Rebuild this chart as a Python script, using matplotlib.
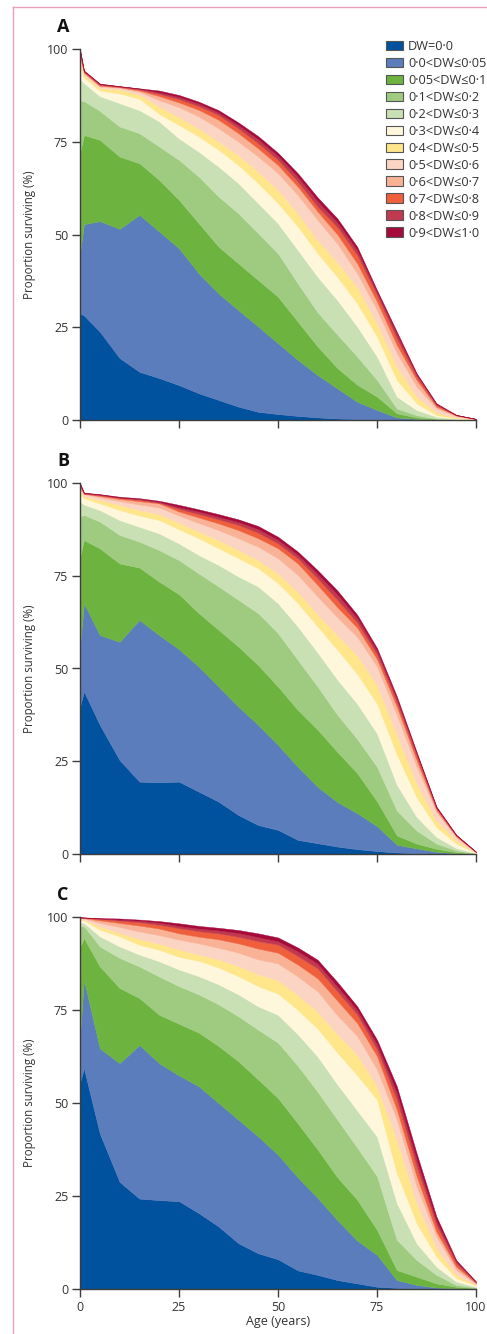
import numpy as np
import matplotlib
matplotlib.use("Agg")
import matplotlib.pyplot as plt
from matplotlib.patches import Patch
from matplotlib.lines import Line2D

plt.rcParams['font.family'] = ['Open Sans', 'DejaVu Sans']

ages = [0, 1, 5, 10, 15, 20, 25, 30, 35, 40, 45, 50, 55, 60, 65, 70, 75, 80, 85, 90, 95, 100]

labels = ["DW=0·0", "0·0<DW≤0·05", "0·05<DW≤0·1", "0·1<DW≤0·2", "0·2<DW≤0·3",
          "0·3<DW≤0·4", "0·4<DW≤0·5", "0·5<DW≤0·6", "0·6<DW≤0·7", "0·7<DW≤0·8",
          "0·8<DW≤0·9", "0·9<DW≤1·0"]
colors = ["#00519e", "#5b7dbc", "#6db33f", "#9ecb7f", "#c8e0b4", "#fff7dc",
          "#ffe68a", "#fcd4c3", "#f9b296", "#ef5f3c", "#c0394f", "#a50a3a"]

# Cumulative % surviving with DW up to each band's upper bound (one row per age,
# columns follow the legend order, last column = total surviving)
panel_A = [
    [28.7, 44.9, 72.0, 86.0, 92.0, 95.0, 96.5, 97.5, 98.3, 99.0, 99.5, 100.0],
    [28.2, 52.8, 76.8, 86.0, 90.8, 92.3, 92.9, 93.3, 93.6, 93.9, 94.1, 94.2],
    [23.8, 53.6, 75.5, 83.3, 87.3, 88.8, 89.5, 89.9, 90.1, 90.35, 90.55, 90.7],
    [16.7, 51.5, 71.0, 79.1, 85.4, 88.0, 89.1, 89.5, 89.7, 89.85, 89.95, 90.0],
    [13.0, 55.3, 69.2, 77.3, 83.5, 86.6, 87.7, 88.4, 88.8, 89.1, 89.3, 89.4],
    [11.3, 50.8, 64.7, 73.7, 80.5, 82.5, 84.5, 86.2, 87.3, 87.9, 88.3, 88.8],
    [9.4, 46.3, 59.3, 70.1, 75.9, 79.5, 81.6, 84.3, 85.6, 86.5, 87.1, 87.6],
    [7.2, 39.5, 53.0, 65.6, 72.3, 76.4, 78.6, 81.8, 83.6, 84.6, 85.3, 85.8],
    [5.4, 34.1, 46.7, 60.2, 68.3, 72.8, 75.0, 78.6, 80.9, 82.2, 82.9, 83.5],
    [3.6, 29.6, 42.2, 55.7, 63.8, 68.7, 71.4, 75.0, 77.3, 78.6, 79.5, 80.2],
    [2.2, 25.2, 37.7, 50.3, 58.4, 63.8, 66.9, 71.0, 73.2, 74.6, 75.7, 76.5],
    [1.6, 20.7, 33.2, 44.9, 53.0, 58.4, 62.0, 66.5, 68.7, 70.1, 71.2, 72.0],
    [1.1, 16.2, 26.5, 36.8, 45.8, 52.1, 55.7, 60.6, 62.9, 64.3, 65.6, 66.5],
    [0.7, 12.1, 19.8, 29.0, 38.6, 44.9, 48.5, 53.9, 56.2, 57.5, 59.0, 60.0],
    [0.4, 8.5, 14.0, 23.0, 32.3, 38.5, 42.5, 47.5, 50.0, 52.0, 53.3, 54.3],
    [0.25, 4.9, 9.5, 17.1, 25.2, 31.4, 35.9, 39.5, 42.2, 44.5, 45.8, 46.7],
    [0.15, 2.7, 6.3, 10.8, 17.1, 22.5, 26.0, 29.6, 31.9, 33.7, 34.5, 35.0],
    [0.1, 0.7, 1.8, 3.1, 6.3, 10.8, 14.4, 18.0, 20.2, 22.0, 23.2, 23.8],
    [0.05, 0.3, 0.7, 1.3, 2.7, 4.5, 6.3, 9.0, 10.8, 11.7, 12.3, 12.6],
    [0.0, 0.1, 0.3, 0.4, 0.9, 1.3, 2.0, 3.1, 3.6, 4.0, 4.3, 4.5],
    [0.0, 0.0, 0.1, 0.1, 0.3, 0.4, 0.7, 1.1, 1.2, 1.3, 1.35, 1.4],
    [0.0, 0.0, 0.0, 0.0, 0.05, 0.1, 0.15, 0.2, 0.25, 0.28, 0.3, 0.3],
]

panel_B = [
    [39.7, 56.0, 80.0, 91.0, 95.0, 97.0, 98.0, 98.5, 99.0, 99.4, 99.7, 100.0],
    [43.8, 67.6, 84.6, 91.4, 94.2, 95.9, 96.5, 97.0, 97.1, 97.2, 97.3, 97.4],
    [34.8, 59.0, 82.4, 89.6, 92.7, 94.5, 95.4, 96.1, 96.5, 96.7, 96.9, 97.0],
    [25.3, 57.2, 78.3, 86.0, 90.0, 92.7, 94.1, 95.1, 95.7, 96.0, 96.1, 96.3],
    [19.5, 63.1, 77.2, 84.2, 88.2, 91.2, 92.7, 94.2, 95.1, 95.5, 95.7, 95.9],
    [19.3, 59.0, 73.4, 81.9, 86.4, 90.0, 91.6, 93.4, 94.5, 94.7, 94.9, 95.2],
    [19.5, 55.2, 70.0, 79.2, 83.7, 87.5, 89.3, 91.2, 92.3, 93.0, 93.5, 94.1],
    [16.8, 50.5, 64.9, 75.6, 80.6, 85.1, 86.9, 89.2, 90.7, 91.6, 92.3, 92.9],
    [14.1, 45.1, 60.4, 72.1, 77.9, 82.4, 84.6, 87.3, 89.1, 90.2, 90.9, 91.6],
    [10.5, 39.7, 55.9, 68.5, 74.8, 79.7, 81.9, 85.1, 87.3, 88.7, 89.5, 90.2],
    [7.8, 34.8, 50.9, 64.9, 72.1, 77.0, 79.2, 82.8, 85.1, 86.6, 87.6, 88.4],
    [6.5, 29.4, 45.1, 59.5, 67.6, 73.0, 75.6, 79.7, 82.4, 83.7, 84.7, 85.5],
    [3.8, 23.5, 38.8, 52.3, 61.3, 67.6, 70.7, 75.2, 78.3, 79.7, 80.7, 81.5],
    [2.9, 18.1, 33.5, 45.1, 54.3, 61.3, 64.6, 69.4, 72.5, 74.3, 75.5, 76.5],
    [2.0, 14.0, 27.5, 37.5, 47.0, 55.0, 59.0, 63.8, 66.5, 68.5, 70.0, 71.0],
    [1.3, 11.0, 21.8, 31.0, 40.5, 48.5, 53.5, 58.5, 61.0, 62.4, 63.6, 64.5],
    [0.8, 7.5, 14.2, 23.5, 32.5, 40.5, 45.5, 50.5, 52.5, 53.8, 54.8, 55.5],
    [0.4, 2.5, 5.0, 11.7, 18.7, 26.8, 32.2, 37.5, 39.7, 41.0, 41.8, 42.5],
    [0.2, 1.5, 2.8, 6.3, 10.0, 15.3, 19.0, 23.5, 25.3, 26.5, 27.1, 27.5],
    [0.1, 0.6, 1.4, 2.8, 4.6, 7.2, 9.0, 11.3, 11.9, 12.3, 12.6, 12.8],
    [0.0, 0.2, 0.5, 1.0, 1.6, 2.8, 3.7, 4.5, 4.8, 5.0, 5.1, 5.2],
    [0.0, 0.0, 0.1, 0.15, 0.2, 0.3, 0.4, 0.45, 0.5, 0.55, 0.6, 0.6],
]

panel_C = [
    [55.5, 68.0, 92.0, 97.5, 98.5, 99.0, 99.2, 99.5, 99.7, 99.8, 99.9, 100.0],
    [59.3, 83.1, 94.3, 97.5, 98.4, 99.1, 99.3, 99.6, 99.7, 99.8, 99.85, 99.9],
    [41.8, 64.7, 86.7, 92.1, 94.8, 96.6, 97.5, 98.4, 99.1, 99.5, 99.6, 99.7],
    [28.8, 60.7, 80.9, 89.0, 92.1, 94.8, 95.7, 97.3, 98.4, 99.0, 99.3, 99.6],
    [24.3, 65.6, 78.2, 86.7, 89.9, 92.5, 94.1, 96.1, 97.7, 98.6, 99.0, 99.3],
    [23.9, 60.7, 73.7, 84.0, 88.1, 91.2, 92.8, 95.1, 96.9, 97.9, 98.5, 98.9],
    [23.6, 57.4, 71.3, 81.4, 85.9, 89.3, 91.3, 93.9, 95.6, 97.0, 97.6, 98.3],
    [20.4, 54.5, 68.9, 79.2, 84.1, 88.2, 89.9, 92.9, 94.7, 96.2, 96.9, 97.6],
    [16.8, 50.0, 65.3, 76.5, 81.9, 86.4, 88.6, 91.7, 94.0, 95.6, 96.4, 97.1],
    [12.3, 45.5, 61.2, 73.3, 79.2, 84.1, 86.8, 90.4, 92.9, 94.7, 95.7, 96.5],
    [9.6, 41.0, 56.3, 69.7, 76.0, 81.4, 84.6, 88.6, 91.5, 93.5, 94.6, 95.6],
    [8.0, 36.1, 51.3, 66.2, 73.7, 79.4, 83.0, 87.5, 90.4, 92.6, 93.5, 94.5],
    [5.0, 30.0, 44.5, 60.0, 68.5, 75.0, 79.0, 84.0, 87.2, 89.5, 90.8, 91.8],
    [3.8, 24.5, 37.5, 53.0, 62.5, 70.0, 74.5, 80.0, 83.5, 86.2, 87.5, 88.5],
    [2.4, 18.5, 30.0, 45.5, 55.0, 63.5, 68.5, 73.5, 77.5, 80.0, 81.3, 82.5],
    [1.5, 13.0, 24.0, 38.0, 48.0, 57.5, 63.0, 68.0, 71.5, 73.8, 75.0, 76.0],
    [0.6, 9.2, 15.9, 30.3, 41.0, 50.9, 54.5, 59.0, 62.6, 64.4, 65.8, 67.0],
    [0.3, 2.4, 5.1, 13.2, 23.1, 31.1, 40.1, 45.5, 48.2, 50.9, 52.8, 54.5],
    [0.1, 1.1, 3.3, 7.8, 12.3, 17.7, 23.1, 27.6, 30.3, 32.9, 34.8, 36.5],
    [0.0, 0.4, 1.5, 3.8, 6.0, 8.7, 11.0, 14.1, 15.4, 17.2, 18.3, 19.5],
    [0.0, 0.2, 0.6, 1.1, 2.0, 2.9, 3.8, 5.1, 6.0, 6.9, 7.4, 7.8],
    [0.0, 0.1, 0.2, 0.4, 0.6, 0.9, 1.1, 1.4, 1.6, 1.8, 1.9, 2.0],
]

panel_letters = ["A", "B", "C"]
ticks = [0, 25, 50, 75, 100]

W, H = 487, 1334
fig = plt.figure(figsize=(W / 100, H / 100), dpi=100)

# axes pixel boxes: (top of 100, bottom of 0)
boxes = [(49, 420), (483, 854), (917, 1289)]
left_px, right_px = 80, 476
spine_col = "#3d3d3d"
text_col = "#333333"

axes = []
for k, (panel, (top, bot)) in enumerate(zip([panel_A, panel_B, panel_C], boxes)):
    ax = fig.add_axes([left_px / W, 1 - bot / H, (right_px - left_px) / W, (bot - top) / H])
    cum = np.array(panel).T
    lower = np.zeros(len(ages))
    for i in range(cum.shape[0]):
        ax.fill_between(ages, lower, cum[i], facecolor=colors[i], edgecolor=colors[i],
                        linewidth=0.3)
        lower = cum[i]
    ax.set_xlim(0, 100)
    ax.set_ylim(0, 100)
    ax.set_xticks(ticks)
    ax.set_yticks(ticks)
    for s in ["top", "right"]:
        ax.spines[s].set_visible(False)
    for s in ["left", "bottom"]:
        ax.spines[s].set_color(spine_col)
        ax.spines[s].set_linewidth(1.0)
    ax.tick_params(direction="out", length=6, width=1.0, color=spine_col,
                   labelsize=9, labelcolor=text_col, pad=2.5)
    if k < 2:
        ax.set_xticklabels([])
    else:
        ax.set_xlabel("Age (years)", fontsize=9, color=text_col, labelpad=1)
    fig.text(30 / W, 1 - ((top + bot) / 2) / H, "Proportion surviving (%)", rotation=90,
             ha="center", va="center", fontsize=8.3, color=text_col)
    fig.text(63 / W, 1 - (top - 22) / H, panel_letters[k], ha="center", va="center",
             fontsize=13, fontweight="bold", color="#111111")
    axes.append(ax)

handles = [Patch(facecolor=c, edgecolor="#555555", linewidth=0.8) for c in colors]
axA = axes[0]
axA.legend(handles, labels, loc="upper left", bbox_to_anchor=((386 - 80) / 396, (420 - 40) / 371),
           frameon=False, fontsize=9.2, handlelength=1.33, handleheight=0.78,
           labelspacing=0.31, handletextpad=0.4, borderpad=0, borderaxespad=0,
           labelcolor=text_col)

pink = "#e8a0b5"
fig.add_artist(Line2D([13 / W, 1], [1 - 7 / H, 1 - 7 / H], transform=fig.transFigure,
                      color=pink, linewidth=1.0))
fig.add_artist(Line2D([13 / W, 13 / W], [0, 1 - 7 / H], transform=fig.transFigure,
                      color=pink, linewidth=1.0))

fig.savefig("out.png", dpi=100)
